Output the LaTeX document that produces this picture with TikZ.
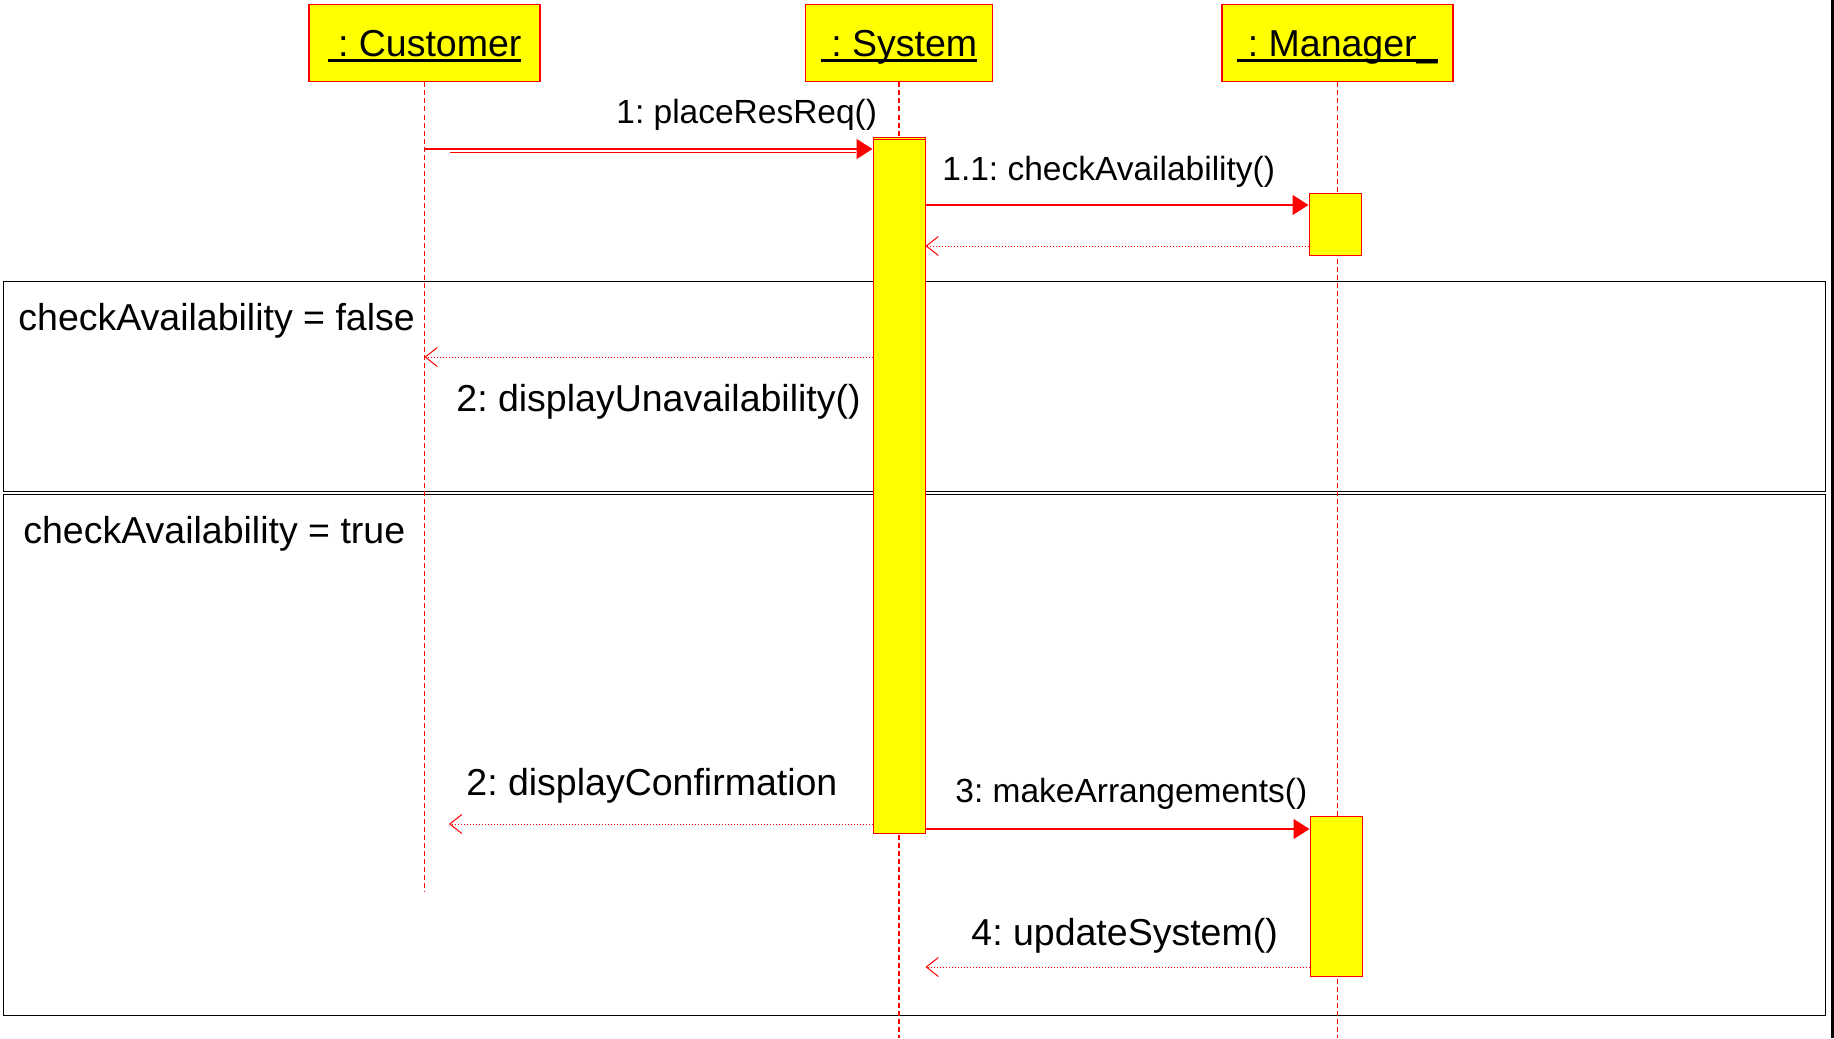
\documentclass[tikz,border=0pt]{standalone}
\usepackage{fontspec}
\setmainfont{Liberation Sans}
\usetikzlibrary{arrows.meta,calc}
\frenchspacing
\definecolor{umlred}{RGB}{255,0,0}
\definecolor{umlyellow}{RGB}{255,255,0}
\tikzstyle{object} = [rectangle, draw = umlred, fill = umlyellow, line width = 0.75pt, minimum height = 38.5pt, anchor = north, inner sep = 0pt, text height = 16pt, text depth = 3pt, font = \fontsize{18.75}{22}\selectfont]
\tikzstyle{activation} = [rectangle, draw = umlred, fill = umlyellow, line width = 0.5pt, minimum width = 26pt, anchor = north, inner sep = 0pt]
\tikzstyle{lifeline} = [umlred, line width = 0.6pt, dash pattern = on 2.5pt off 1.5pt]
\tikzstyle{call} = [umlred, line width = 0.6pt, -{Triangle[length = 8pt, width = 10pt]}]
\tikzstyle{reply} = [umlred, line width = 0.5pt, dash pattern = on 0.5pt off 1pt, -{Straight Barb[length = 6pt, width = 9.5pt]}]
\tikzstyle{fragment} = [rectangle, draw = black, line width = 0.7pt, anchor = north west, inner sep = 0pt]
\tikzstyle{msglabel} = [anchor = base west, inner sep = 0pt, font = \fontsize{18.75}{22}\selectfont]
\tikzstyle{smalllabel} = [msglabel, font = \fontsize{16.75}{20}\selectfont]
\newcommand{\objname}[1]{\setbox0\hbox{#1}\rlap{\rule[-3pt]{\wd0}{1.4pt}}\box0}

\begin{document}
\begin{tikzpicture}[x = 0.5pt, y = -0.5pt]
\useasboundingbox (0,0) rectangle (1834,1038);

\node(altFalse) [fragment, minimum width = 911pt, minimum height = 105pt] at (3,281) {};
\node(altTrue)  [fragment, minimum width = 911pt, minimum height = 260.5pt] at (3,494) {};
\fill (1831,0) rectangle (1834,1038);

\node(Customer) [object, minimum width = 115.5pt] at (424.5,4) {\objname{\ : Customer}};
\node(System)   [object, minimum width = 93.5pt] at (899,4) {\objname{\ : System}};
\node(Manager)  [object, minimum width = 115.5pt] at (1337.5,4) {\objname{\ : Manager\_}};

\coordinate (custEnd) at (Customer.south |- 0,892);
\coordinate (sysEnd) at (System.south |- 0,1038);
\coordinate (mgrEnd) at (Manager.south |- 0,1038);
\draw [lifeline] (Customer.south) -- (custEnd);
\draw [lifeline] (System.south) -- (sysEnd);
\draw [lifeline] (Manager.south) -- (mgrEnd);

\node(sysAct)  [activation, minimum height = 348pt] at (899,137) {};
\draw [umlred, line width = 0.5pt] ([yshift=-1pt]sysAct.north west) -- ([yshift=-1pt]sysAct.north east);
\node(mgrAct1) [activation, minimum height = 31pt] at (1335,193) {};
\node(mgrAct2) [activation, minimum height = 80pt] at (1336,816) {};

\coordinate (m1) at (Customer.south |- 0,149);
\draw [call] (m1) -- (m1 -| sysAct.west);
\draw [umlred, line width = 0.5pt] ($(m1)+(25,3)$) -- ($(m1 -| sysAct.west)+(-17,3)$);
\node(lblPlace) [smalllabel] at (616,123) {1: placeResReq()};

\coordinate (m11) at (sysAct.east |- 0,205);
\draw [call] (m11) -- (m11 -| mgrAct1.west);
\node(lblCheck) [smalllabel] at (942,180) {1.1: checkAvailability()};
\coordinate (r11) at (mgrAct1.west |- 0,246);
\draw [reply] (r11) -- (r11 -| sysAct.east);

\node(guardFalse) [msglabel] at (18,330) {checkAvailability = false};
\coordinate (r2) at (sysAct.west |- 0,357);
\draw [reply] (r2) -- (r2 -| Customer.south);
\node(lblUnavail) [msglabel] at (456,411) {2: displayUnavailability()};

\node(guardTrue) [msglabel] at (23,543) {checkAvailability = true};
\coordinate (r2b) at (sysAct.west |- 0,824);
\coordinate (confEnd) at (449,824);
\draw [reply] (r2b) -- (confEnd);
\node(lblConfirm) [msglabel] at (466,795) {2: displayConfirmation};

\coordinate (m3) at (sysAct.east |- 0,829);
\draw [call] (m3) -- (m3 -| mgrAct2.west);
\node(lblArrange) [smalllabel] at (955,802) {3: makeArrangements()};
\coordinate (r4) at (mgrAct2.west |- 0,967);
\draw [reply] (r4) -- (r4 -| sysAct.east);
\node(lblUpdate) [msglabel] at (971,945) {4: updateSystem()};

\end{tikzpicture}
\end{document}
